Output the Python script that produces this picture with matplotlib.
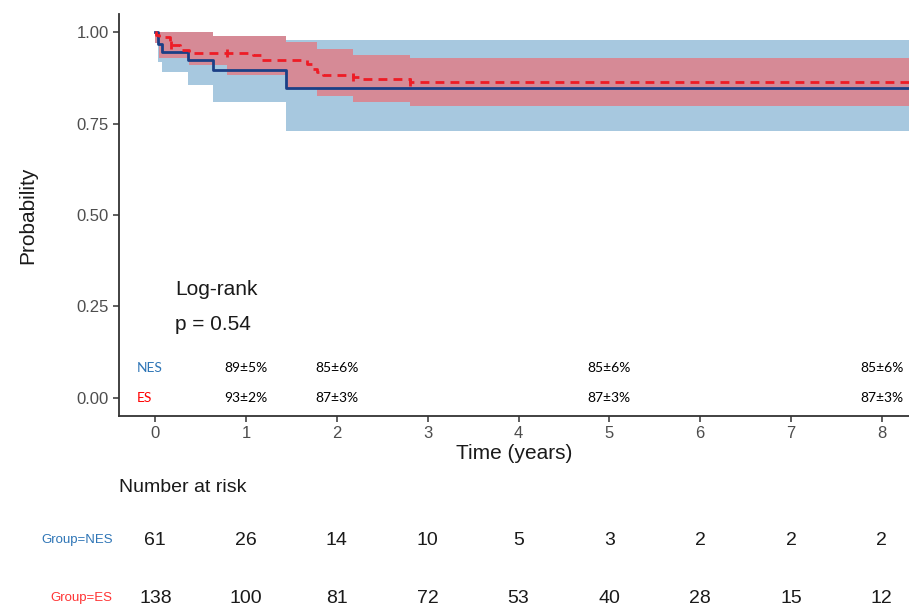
import numpy as np
import matplotlib.pyplot as plt

plt.rcParams['font.family'] = ['Liberation Sans', 'DejaVu Sans']

# Kaplan-Meier estimates (time in years)
nes_t = [0, 0.03, 0.07, 0.36, 0.64, 1.44, 8.3]
nes_surv = [1.0, 0.967, 0.946, 0.923, 0.896, 0.847, 0.847]
nes_upper = [1.0, 1.0, 1.0, 1.0, 0.99, 0.98, 0.98]
nes_lower = [0.97, 0.92, 0.89, 0.855, 0.81, 0.73, 0.73]

es_t = [0, 0.01, 0.04, 0.165, 0.275, 0.37, 1.08, 1.16, 1.67, 1.73, 1.78, 1.85, 2.18, 2.29, 2.81, 8.3]
es_surv = [1.0, 0.993, 0.987, 0.964, 0.951, 0.944, 0.937, 0.925, 0.914, 0.9, 0.892, 0.882, 0.878, 0.871, 0.864, 0.864]
es_ci_t = [0, 0.04, 0.37, 0.64, 0.79, 1.44, 1.78, 2.18, 2.81, 8.3]
es_upper = [1.0, 1.0, 1.0, 0.989, 0.989, 0.974, 0.953, 0.937, 0.93, 0.93]
es_lower = [0.97, 0.93, 0.91, 0.91, 0.882, 0.846, 0.825, 0.81, 0.798, 0.798]
es_censor = [0.17, 0.79, 2.18, 2.81]

# survival labels at given years
label_years = [1, 2, 5, 8]
nes_labels = ['89±5%', '85±6%', '85±6%', '85±6%']
es_labels = ['93±2%', '87±3%', '87±3%', '87±3%']

# number at risk
risk_years = [0, 1, 2, 3, 4, 5, 6, 7, 8]
nes_risk = [61, 26, 14, 10, 5, 3, 2, 2, 2]
es_risk = [138, 100, 81, 72, 53, 40, 28, 15, 12]

fig = plt.figure(figsize=(9.09, 6.08), dpi=100)
ax = fig.add_axes([119/909, 1 - 416/608, 1 - 119/909, (416 - 14)/608])

ax.fill_between(nes_t, nes_lower, nes_upper, step='post', color='#A7C8DF', lw=0)
ax.fill_between(es_ci_t, es_lower, es_upper, step='post', color='#D68A96', lw=0)
ax.step(nes_t, nes_surv, where='post', color='#1B3F86', lw=2)
ax.step(es_t, es_surv, where='post', color='#EE1C25', lw=2, dashes=(3.2, 2.2))
# censor marks on ES curve
cy = [es_surv[np.searchsorted(es_t, c, side='right') - 1] for c in es_censor]
ax.plot(es_censor, cy, ls='none', marker='|', ms=6, mew=2, color='#EE1C25')

ax.text(0.22, 0.295, 'Log-rank', fontsize=15, va='center', color='#1A1A1A')
ax.text(0.22, 0.20, 'p = 0.54', fontsize=15, va='center', color='#1A1A1A')

ax.text(-0.2, 0.082, 'NES', fontsize=10, family=['Lato', 'DejaVu Sans'], color='#2E75B6', va='center')
ax.text(-0.2, 0.0, 'ES', fontsize=10, family=['Lato', 'DejaVu Sans'], color='#FF0000', va='center')
for yr, a, b in zip(label_years, nes_labels, es_labels):
    ax.text(yr, 0.082, a, fontsize=10, family=['Lato', 'DejaVu Sans'], ha='center', va='center')
    ax.text(yr, 0.0, b, fontsize=10, family=['Lato', 'DejaVu Sans'], ha='center', va='center')

ax.set_xlim(-0.4, 8.3)
ax.set_ylim(-0.05, 1.05)
ax.set_xticks(range(0, 9))
ax.set_yticks([0, 0.25, 0.5, 0.75, 1.0])
ax.set_yticklabels(['0.00', '0.25', '0.50', '0.75', '1.00'])
ax.tick_params(labelsize=12, labelcolor='#4D4D4D', color='#333333', length=4, width=1.1)
for s in ['top', 'right']:
    ax.spines[s].set_visible(False)
for s in ['left', 'bottom']:
    ax.spines[s].set_linewidth(1.3)
    ax.spines[s].set_color('#333333')
ax.set_xlabel('Time (years)', fontsize=15, color='#1A1A1A', labelpad=2)
ax.set_ylabel('Probability', fontsize=15, color='#1A1A1A', labelpad=28)

# risk table
rax = fig.add_axes([119/909, 0, 1 - 119/909, 138/608])
rax.set_xlim(-0.4, 8.3)
rax.set_ylim(0, 1)
rax.axis('off')
rax.text(-0.4, 0.87, 'Number at risk', fontsize=14, va='center', color='#1A1A1A')
rax.text(-0.47, 0.49, 'Group=NES', fontsize=9.5, ha='right', va='center', color='#2E75B6')
rax.text(-0.47, 0.07, 'Group=ES', fontsize=9.5, ha='right', va='center', color='#FF3333')
for yr, a, b in zip(risk_years, nes_risk, es_risk):
    rax.text(yr, 0.49, str(a), fontsize=14, ha='center', va='center', color='#1A1A1A')
    rax.text(yr, 0.07, str(b), fontsize=14, ha='center', va='center', color='#1A1A1A')

fig.savefig('out.png', dpi=100)
